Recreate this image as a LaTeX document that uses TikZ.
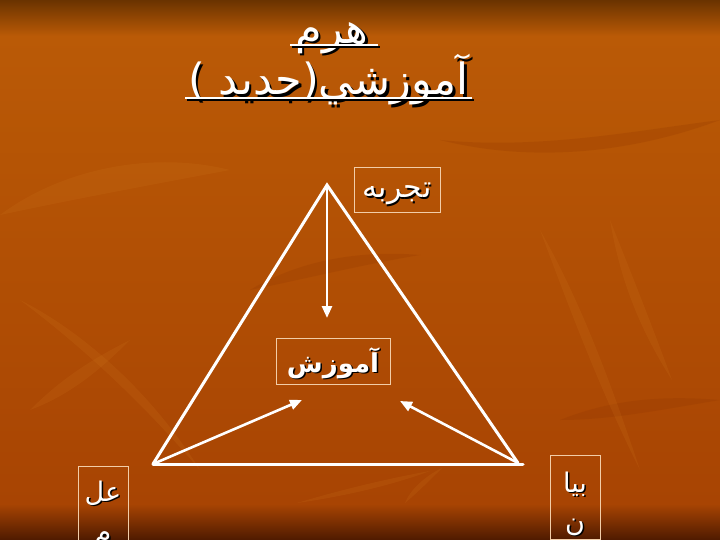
\documentclass[tikz,border=0pt]{standalone}
\usepackage{fontspec}
\usetikzlibrary{arrows.meta}
\TeXXeTstate=1
\newfontfamily\arfont[Script=Arabic]{DejaVu Sans}
\definecolor{bgtop}{HTML}{6A3300}
\definecolor{bgmain}{HTML}{BA5A06}
\definecolor{bgmid}{HTML}{A84403}
\definecolor{bgbot}{HTML}{4E1A00}
\definecolor{leaf}{HTML}{D27A20}
\definecolor{leafdark}{HTML}{8E3400}
\definecolor{boxline}{HTML}{F2CDA8}
\tikzset{
  every node/.style={inner sep=0pt, outer sep=0pt},
  shadowtxt/.style={text=black, font=\arfont},
  maintxt/.style={text=white, font=\arfont},
  labelbox/.style={draw=boxline, line width=0.9pt, minimum width=#1},
  edge/.style={draw=white, line width=3pt, line cap=round},
  arr/.style={draw=white, line width=2.6pt, -{Triangle[length=12pt,width=10pt]}},
  leafshape/.style={fill=leaf, opacity=0.16},
  leafdk/.style={fill=leafdark, opacity=0.22},
  uline/.style={line width=2.2pt},
  titlefont/.style={font=\arfont\fontsize{43}{48}\selectfont},
  labfont/.style={font=\arfont\fontsize{30}{34}\selectfont},
  sidefont/.style={font=\arfont\fontsize{27}{30}\selectfont}
}
\begin{document}
\begin{tikzpicture}[x=1pt,y=-1pt]
\useasboundingbox (0,0) rectangle (720,540);
\clip (0,0) rectangle (720,540);
% background
\fill[bgmain] (0,0) rectangle (720,540);
\shade[top color=bgmain, bottom color=bgmid] (0,35) rectangle (720,505);
\shade[top color=bgtop, bottom color=bgmain] (0,0) rectangle (720,36);
\shade[top color=bgmid, bottom color=bgbot] (0,504) rectangle (720,540);
% faint leaves
\fill[leafshape] (0,215) .. controls (60,170) and (150,150) .. (230,170) .. controls (150,185) and (70,200) .. cycle;
\fill[leafdk] (440,140) .. controls (540,150) and (640,130) .. (720,120) .. controls (640,150) and (540,165) .. cycle;
\fill[leafshape] (610,220) .. controls (630,270) and (650,320) .. (672,380) .. controls (640,330) and (620,280) .. cycle;
\fill[leafshape] (297,503) .. controls (340,490) and (390,478) .. (430,471) .. controls (390,486) and (340,497) .. cycle;
\fill[leafshape] (405,503) .. controls (410,490) and (425,476) .. (442,468) .. controls (430,480) and (418,492) .. cycle;
\fill[leafshape] (30,410) .. controls (60,380) and (90,360) .. (130,340) .. controls (100,370) and (70,395) .. cycle;
\fill[leafshape] (20,300) .. controls (80,330) and (150,390) .. (200,470) .. controls (140,400) and (80,345) .. cycle;
\fill[leafdk] (560,420) .. controls (610,400) and (660,395) .. (720,400) .. controls (660,410) and (610,420) .. cycle;
\fill[leafshape] (540,230) .. controls (580,300) and (610,380) .. (640,470) .. controls (600,390) and (570,310) .. cycle;
\fill[leafdk] (250,290) .. controls (300,260) and (360,250) .. (420,255) .. controls (360,265) and (300,280) .. cycle;
% title
\node[shadowtxt, titlefont] (t1s) at (334.5,40.5) {\beginR هرم\endR};
\node[maintxt, titlefont] (t1) at (332,38) {\beginR هرم\endR};
\node[shadowtxt, titlefont] (t2s) at (331,82.5) {\beginR آموزشي(جديد )\endR};
\node[maintxt, titlefont] (t2) at (328.5,80) {\beginR آموزشي(جديد )\endR};
\coordinate (u1a) at (290,45); \coordinate (u1b) at (378,45);
\coordinate (u2a) at (185,98); \coordinate (u2b) at (472,98);
\draw[uline, black] ([shift={(2,2)}]u1a) -- ([shift={(2,2)}]u1b);
\draw[uline, white] (u1a) -- (u1b);
\draw[uline, black] ([shift={(2,2)}]u2a) -- ([shift={(2,2)}]u2b);
\draw[uline, white] (u2a) -- (u2b);
% triangle
\coordinate (apex) at (327,185);
\coordinate (bl) at (153,464);
\coordinate (br) at (518,463);
\coordinate (brx) at (523,464);
\coordinate (tipv) at (327,318);
\coordinate (tipl) at (302,400);
\coordinate (tipr) at (400,401);
\draw[edge] (bl) -- (apex) -- (br);
\draw[edge] (bl) -- (brx);
\draw[arr] (apex) -- (tipv);
\draw[arr] (bl) -- (tipl);
\draw[arr] (br) -- (tipr);
% boxes
\node[labelbox=86pt, minimum height=45pt] (bexp) at (397,189.5) {};
\node[shadowtxt, labfont] (texps) at (398.5,195.5) {\beginR تجربه\endR};
\node[maintxt, labfont] (texp) at (397,194) {\beginR تجربه\endR};
\node[labelbox=114pt, minimum height=46pt] (bedu) at (333,361) {};
\node[shadowtxt, font=\arfont\bfseries\fontsize{26}{30}\selectfont] (tedus) at (334.5,364.5) {\beginR آموزش\endR};
\node[maintxt, font=\arfont\bfseries\fontsize{26}{30}\selectfont] (tedu) at (333,363) {\beginR آموزش\endR};
\node[labelbox=50pt, minimum height=90pt] (bsci) at (103,511) {};
\node[shadowtxt, sidefont] (tsci1s) at (104.5,494.5) {\beginR عل\endR};
\node[maintxt, sidefont] (tsci1) at (103,493) {\beginR عل\endR};
\node[shadowtxt, sidefont] (tsci2s) at (104.5,541.5) {\beginR م\endR};
\node[maintxt, sidefont] (tsci2) at (103,540) {\beginR م\endR};
\node[labelbox=50pt, minimum height=84pt] (bexpr) at (575,497) {};
\node[shadowtxt, sidefont] (tex1s) at (576.5,485.5) {\beginR بيا\endR};
\node[maintxt, sidefont] (tex1) at (575,484) {\beginR بيا\endR};
\node[shadowtxt, sidefont] (tex2s) at (576.5,528.5) {\beginR ن\endR};
\node[maintxt, sidefont] (tex2) at (575,527) {\beginR ن\endR};
\end{tikzpicture}
\end{document}
